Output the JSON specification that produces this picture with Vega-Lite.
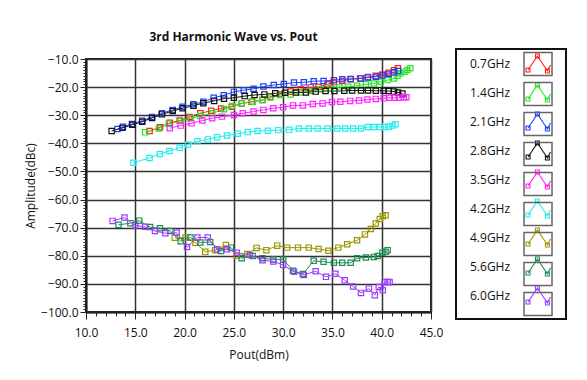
{
  "$schema": "https://vega.github.io/schema/vega-lite/v6.json",
  "width": 345,
  "height": 253,
  "autosize": {"type": "none"},
  "padding": {"left": 86, "top": 59, "right": 156, "bottom": 68},
  "background": "white",
  "title": {"text": "3rd Harmonic Wave vs. Pout", "font": "Open Sans", "fontSize": 12, "fontWeight": "bold", "color": "#111", "anchor": "middle", "dx": -25, "offset": 4},
  "config": {
    "view": {"stroke": "#222", "strokeWidth": 2},
    "font": "Open Sans",
    "legend": {"strokeWidth": 2}
  },
  "datasets": {
    "d": [
      {"s":"0.7GHz","x":16.45,"y":-35.6},{"s":"0.7GHz","x":17.5,"y":-34.3},{"s":"0.7GHz","x":18.5,"y":-32.7},{"s":"0.7GHz","x":19.5,"y":-31.9},{"s":"0.7GHz","x":20.5,"y":-30.6},{"s":"0.7GHz","x":21.6,"y":-29.3},{"s":"0.7GHz","x":22.7,"y":-28.4},{"s":"0.7GHz","x":23.7,"y":-27.6},{"s":"0.7GHz","x":24.8,"y":-27.0},{"s":"0.7GHz","x":25.8,"y":-25.8},{"s":"0.7GHz","x":26.8,"y":-25.2},{"s":"0.7GHz","x":27.9,"y":-24.6},{"s":"0.7GHz","x":28.7,"y":-23.4},{"s":"0.7GHz","x":29.7,"y":-22.5},{"s":"0.7GHz","x":30.75,"y":-21.6},{"s":"0.7GHz","x":31.8,"y":-20.8},{"s":"0.7GHz","x":32.8,"y":-20.1},{"s":"0.7GHz","x":33.6,"y":-19.9},{"s":"0.7GHz","x":34.5,"y":-19.0},{"s":"0.7GHz","x":35.15,"y":-18.3},{"s":"0.7GHz","x":36.0,"y":-17.8},{"s":"0.7GHz","x":36.85,"y":-17.2},{"s":"0.7GHz","x":37.8,"y":-16.9},{"s":"0.7GHz","x":38.6,"y":-16.4},{"s":"0.7GHz","x":39.4,"y":-16.0},{"s":"0.7GHz","x":40.07,"y":-15.5},{"s":"0.7GHz","x":40.7,"y":-14.9},{"s":"0.7GHz","x":41.25,"y":-14.0},{"s":"0.7GHz","x":41.65,"y":-13.3},
      {"s":"1.4GHz","x":16.0,"y":-36.1},{"s":"1.4GHz","x":17.4,"y":-34.7},{"s":"1.4GHz","x":18.4,"y":-33.0},{"s":"1.4GHz","x":19.6,"y":-32.1},{"s":"1.4GHz","x":20.6,"y":-31.1},{"s":"1.4GHz","x":21.6,"y":-30.3},{"s":"1.4GHz","x":22.8,"y":-29.3},{"s":"1.4GHz","x":24.0,"y":-27.9},{"s":"1.4GHz","x":24.8,"y":-26.7},{"s":"1.4GHz","x":25.8,"y":-25.8},{"s":"1.4GHz","x":26.9,"y":-25.2},{"s":"1.4GHz","x":27.9,"y":-24.6},{"s":"1.4GHz","x":28.7,"y":-23.7},{"s":"1.4GHz","x":29.7,"y":-22.8},{"s":"1.4GHz","x":30.75,"y":-22.6},{"s":"1.4GHz","x":31.8,"y":-21.9},{"s":"1.4GHz","x":32.8,"y":-21.4},{"s":"1.4GHz","x":33.8,"y":-20.8},{"s":"1.4GHz","x":34.8,"y":-20.4},{"s":"1.4GHz","x":35.7,"y":-20.1},{"s":"1.4GHz","x":36.6,"y":-19.9},{"s":"1.4GHz","x":37.5,"y":-19.5},{"s":"1.4GHz","x":38.4,"y":-19.0},{"s":"1.4GHz","x":39.2,"y":-18.7},{"s":"1.4GHz","x":39.9,"y":-18.1},{"s":"1.4GHz","x":40.6,"y":-17.5},{"s":"1.4GHz","x":41.25,"y":-16.9},{"s":"1.4GHz","x":41.6,"y":-16.0},{"s":"1.4GHz","x":41.9,"y":-15.1},{"s":"1.4GHz","x":42.3,"y":-14.5},{"s":"1.4GHz","x":42.6,"y":-13.9},{"s":"1.4GHz","x":42.9,"y":-13.3},
      {"s":"2.1GHz","x":13.2,"y":-34.9},{"s":"2.1GHz","x":13.75,"y":-34.1},{"s":"2.1GHz","x":14.66,"y":-33.1},{"s":"2.1GHz","x":15.7,"y":-32.0},{"s":"2.1GHz","x":16.7,"y":-30.6},{"s":"2.1GHz","x":17.7,"y":-29.3},{"s":"2.1GHz","x":18.8,"y":-28.1},{"s":"2.1GHz","x":19.8,"y":-27.0},{"s":"2.1GHz","x":20.9,"y":-26.1},{"s":"2.1GHz","x":21.9,"y":-25.2},{"s":"2.1GHz","x":22.96,"y":-23.8},{"s":"2.1GHz","x":23.97,"y":-22.9},{"s":"2.1GHz","x":25.0,"y":-21.7},{"s":"2.1GHz","x":26.0,"y":-21.1},{"s":"2.1GHz","x":27.0,"y":-20.6},{"s":"2.1GHz","x":28.0,"y":-19.8},{"s":"2.1GHz","x":29.05,"y":-19.25},{"s":"2.1GHz","x":30.07,"y":-18.9},{"s":"2.1GHz","x":31.1,"y":-18.4},{"s":"2.1GHz","x":32.1,"y":-18.3},{"s":"2.1GHz","x":33.1,"y":-17.9},{"s":"2.1GHz","x":34.1,"y":-17.8},{"s":"2.1GHz","x":35.15,"y":-17.6},{"s":"2.1GHz","x":36.0,"y":-17.2},{"s":"2.1GHz","x":36.85,"y":-17.1},{"s":"2.1GHz","x":37.9,"y":-16.9},{"s":"2.1GHz","x":38.6,"y":-16.6},{"s":"2.1GHz","x":39.4,"y":-16.3},{"s":"2.1GHz","x":40.07,"y":-15.9},{"s":"2.1GHz","x":40.7,"y":-15.3},{"s":"2.1GHz","x":41.25,"y":-14.7},{"s":"2.1GHz","x":41.65,"y":-14.3},
      {"s":"2.8GHz","x":12.6,"y":-35.6},{"s":"2.8GHz","x":13.7,"y":-34.5},{"s":"2.8GHz","x":14.7,"y":-33.4},{"s":"2.8GHz","x":15.7,"y":-32.3},{"s":"2.8GHz","x":16.7,"y":-31.0},{"s":"2.8GHz","x":17.7,"y":-29.7},{"s":"2.8GHz","x":18.8,"y":-28.5},{"s":"2.8GHz","x":19.8,"y":-27.5},{"s":"2.8GHz","x":20.9,"y":-26.6},{"s":"2.8GHz","x":21.9,"y":-25.7},{"s":"2.8GHz","x":23.0,"y":-24.9},{"s":"2.8GHz","x":24.0,"y":-24.1},{"s":"2.8GHz","x":25.0,"y":-23.8},{"s":"2.8GHz","x":26.1,"y":-23.2},{"s":"2.8GHz","x":27.1,"y":-22.8},{"s":"2.8GHz","x":28.1,"y":-22.6},{"s":"2.8GHz","x":29.2,"y":-22.2},{"s":"2.8GHz","x":30.2,"y":-22.0},{"s":"2.8GHz","x":31.3,"y":-21.9},{"s":"2.8GHz","x":32.3,"y":-21.9},{"s":"2.8GHz","x":33.3,"y":-21.6},{"s":"2.8GHz","x":34.3,"y":-21.4},{"s":"2.8GHz","x":35.2,"y":-21.4},{"s":"2.8GHz","x":36.2,"y":-21.3},{"s":"2.8GHz","x":37.0,"y":-21.2},{"s":"2.8GHz","x":37.9,"y":-21.2},{"s":"2.8GHz","x":38.6,"y":-21.2},{"s":"2.8GHz","x":39.4,"y":-21.3},{"s":"2.8GHz","x":40.2,"y":-21.3},{"s":"2.8GHz","x":40.7,"y":-21.4},{"s":"2.8GHz","x":41.25,"y":-21.6},{"s":"2.8GHz","x":41.65,"y":-21.9},{"s":"2.8GHz","x":42.1,"y":-22.3},
      {"s":"3.5GHz","x":18.5,"y":-34.6},{"s":"3.5GHz","x":19.6,"y":-33.7},{"s":"3.5GHz","x":20.7,"y":-32.9},{"s":"3.5GHz","x":21.8,"y":-31.9},{"s":"3.5GHz","x":22.8,"y":-31.1},{"s":"3.5GHz","x":23.8,"y":-30.5},{"s":"3.5GHz","x":25.0,"y":-29.9},{"s":"3.5GHz","x":25.9,"y":-29.3},{"s":"3.5GHz","x":27.0,"y":-28.7},{"s":"3.5GHz","x":28.0,"y":-28.1},{"s":"3.5GHz","x":29.0,"y":-27.5},{"s":"3.5GHz","x":30.0,"y":-27.2},{"s":"3.5GHz","x":31.0,"y":-26.5},{"s":"3.5GHz","x":32.0,"y":-26.5},{"s":"3.5GHz","x":33.0,"y":-26.0},{"s":"3.5GHz","x":34.0,"y":-25.8},{"s":"3.5GHz","x":34.95,"y":-25.3},{"s":"3.5GHz","x":35.8,"y":-25.2},{"s":"3.5GHz","x":36.8,"y":-24.9},{"s":"3.5GHz","x":37.7,"y":-24.8},{"s":"3.5GHz","x":38.55,"y":-24.4},{"s":"3.5GHz","x":39.4,"y":-24.2},{"s":"3.5GHz","x":40.2,"y":-24.0},{"s":"3.5GHz","x":40.8,"y":-23.8},{"s":"3.5GHz","x":41.3,"y":-23.8},{"s":"3.5GHz","x":41.75,"y":-23.8},{"s":"3.5GHz","x":42.25,"y":-23.6},{"s":"3.5GHz","x":42.5,"y":-23.6},
      {"s":"4.2GHz","x":14.8,"y":-46.9},{"s":"4.2GHz","x":16.45,"y":-45.2},{"s":"4.2GHz","x":17.5,"y":-43.8},{"s":"4.2GHz","x":18.46,"y":-42.7},{"s":"4.2GHz","x":19.5,"y":-41.6},{"s":"4.2GHz","x":20.35,"y":-40.4},{"s":"4.2GHz","x":21.3,"y":-39.3},{"s":"4.2GHz","x":22.35,"y":-38.6},{"s":"4.2GHz","x":23.3,"y":-37.8},{"s":"4.2GHz","x":24.3,"y":-37.2},{"s":"4.2GHz","x":25.4,"y":-36.6},{"s":"4.2GHz","x":26.4,"y":-36.0},{"s":"4.2GHz","x":27.4,"y":-35.6},{"s":"4.2GHz","x":28.45,"y":-35.5},{"s":"4.2GHz","x":29.5,"y":-35.3},{"s":"4.2GHz","x":30.6,"y":-35.2},{"s":"4.2GHz","x":31.6,"y":-34.7},{"s":"4.2GHz","x":32.6,"y":-34.7},{"s":"4.2GHz","x":33.5,"y":-34.7},{"s":"4.2GHz","x":34.5,"y":-34.7},{"s":"4.2GHz","x":35.5,"y":-34.7},{"s":"4.2GHz","x":36.3,"y":-34.7},{"s":"4.2GHz","x":37.1,"y":-34.7},{"s":"4.2GHz","x":37.9,"y":-34.7},{"s":"4.2GHz","x":38.6,"y":-34.2},{"s":"4.2GHz","x":39.2,"y":-34.2},{"s":"4.2GHz","x":39.8,"y":-34.2},{"s":"4.2GHz","x":40.3,"y":-34.2},{"s":"4.2GHz","x":40.7,"y":-34.1},{"s":"4.2GHz","x":41.1,"y":-33.7},{"s":"4.2GHz","x":41.4,"y":-33.2},
      {"s":"4.9GHz","x":19.0,"y":-73.6},{"s":"4.9GHz","x":20.1,"y":-73.5},{"s":"4.9GHz","x":21.1,"y":-75.4},{"s":"4.9GHz","x":22.1,"y":-78.6},{"s":"4.9GHz","x":23.1,"y":-78.0},{"s":"4.9GHz","x":24.2,"y":-76.2},{"s":"4.9GHz","x":25.3,"y":-80.0},{"s":"4.9GHz","x":26.35,"y":-79.4},{"s":"4.9GHz","x":27.3,"y":-77.2},{"s":"4.9GHz","x":28.3,"y":-78.0},{"s":"4.9GHz","x":29.4,"y":-76.4},{"s":"4.9GHz","x":30.4,"y":-77.1},{"s":"4.9GHz","x":31.5,"y":-77.1},{"s":"4.9GHz","x":32.6,"y":-77.1},{"s":"4.9GHz","x":33.6,"y":-77.6},{"s":"4.9GHz","x":34.6,"y":-78.2},{"s":"4.9GHz","x":35.6,"y":-77.1},{"s":"4.9GHz","x":36.5,"y":-75.9},{"s":"4.9GHz","x":37.5,"y":-74.5},{"s":"4.9GHz","x":38.3,"y":-72.4},{"s":"4.9GHz","x":38.9,"y":-70.5},{"s":"4.9GHz","x":39.4,"y":-68.5},{"s":"4.9GHz","x":39.8,"y":-66.9},{"s":"4.9GHz","x":40.1,"y":-65.9},{"s":"4.9GHz","x":40.4,"y":-65.6},
      {"s":"5.6GHz","x":13.3,"y":-69.0},{"s":"5.6GHz","x":14.5,"y":-68.4},{"s":"5.6GHz","x":15.4,"y":-67.5},{"s":"5.6GHz","x":16.5,"y":-69.8},{"s":"5.6GHz","x":17.5,"y":-70.2},{"s":"5.6GHz","x":18.55,"y":-71.2},{"s":"5.6GHz","x":19.6,"y":-74.8},{"s":"5.6GHz","x":20.6,"y":-73.5},{"s":"5.6GHz","x":21.6,"y":-75.3},{"s":"5.6GHz","x":22.6,"y":-75.1},{"s":"5.6GHz","x":23.7,"y":-78.3},{"s":"5.6GHz","x":24.7,"y":-77.1},{"s":"5.6GHz","x":25.8,"y":-80.9},{"s":"5.6GHz","x":26.9,"y":-80.1},{"s":"5.6GHz","x":27.9,"y":-80.9},{"s":"5.6GHz","x":29.0,"y":-81.3},{"s":"5.6GHz","x":30.0,"y":-81.3},{"s":"5.6GHz","x":31.0,"y":-85.3},{"s":"5.6GHz","x":32.0,"y":-86.5},{"s":"5.6GHz","x":33.1,"y":-81.8},{"s":"5.6GHz","x":34.1,"y":-82.1},{"s":"5.6GHz","x":35.15,"y":-82.5},{"s":"5.6GHz","x":36.0,"y":-82.5},{"s":"5.6GHz","x":36.85,"y":-82.5},{"s":"5.6GHz","x":37.5,"y":-80.9},{"s":"5.6GHz","x":38.4,"y":-80.6},{"s":"5.6GHz","x":39.2,"y":-80.4},{"s":"5.6GHz","x":39.6,"y":-80.1},{"s":"5.6GHz","x":40.07,"y":-78.9},{"s":"5.6GHz","x":40.4,"y":-78.6},{"s":"5.6GHz","x":40.6,"y":-78.0},
      {"s":"6.0GHz","x":12.7,"y":-67.6},{"s":"6.0GHz","x":13.9,"y":-66.4},{"s":"6.0GHz","x":15.0,"y":-69.2},{"s":"6.0GHz","x":16.0,"y":-69.7},{"s":"6.0GHz","x":17.0,"y":-71.2},{"s":"6.0GHz","x":18.05,"y":-72.0},{"s":"6.0GHz","x":19.2,"y":-71.8},{"s":"6.0GHz","x":20.25,"y":-76.9},{"s":"6.0GHz","x":21.3,"y":-73.5},{"s":"6.0GHz","x":22.35,"y":-73.5},{"s":"6.0GHz","x":23.3,"y":-77.7},{"s":"6.0GHz","x":24.3,"y":-77.7},{"s":"6.0GHz","x":25.3,"y":-78.9},{"s":"6.0GHz","x":26.6,"y":-79.7},{"s":"6.0GHz","x":27.9,"y":-81.6},{"s":"6.0GHz","x":29.0,"y":-82.0},{"s":"6.0GHz","x":30.0,"y":-83.3},{"s":"6.0GHz","x":31.1,"y":-85.7},{"s":"6.0GHz","x":32.1,"y":-86.8},{"s":"6.0GHz","x":33.3,"y":-85.5},{"s":"6.0GHz","x":34.35,"y":-87.5},{"s":"6.0GHz","x":35.3,"y":-86.4},{"s":"6.0GHz","x":36.25,"y":-88.7},{"s":"6.0GHz","x":37.1,"y":-90.9},{"s":"6.0GHz","x":37.9,"y":-93.2},{"s":"6.0GHz","x":38.7,"y":-91.7},{"s":"6.0GHz","x":39.3,"y":-94.0},{"s":"6.0GHz","x":39.7,"y":-91.1},{"s":"6.0GHz","x":40.1,"y":-92.3},{"s":"6.0GHz","x":40.3,"y":-89.4},{"s":"6.0GHz","x":40.6,"y":-89.25},{"s":"6.0GHz","x":40.8,"y":-89.4}
    ],
    "keys": [
      {"key":"0.7GHz"},{"key":"1.4GHz"},{"key":"2.1GHz"},{"key":"2.8GHz"},{"key":"3.5GHz"},{"key":"4.2GHz"},{"key":"4.9GHz"},{"key":"5.6GHz"},{"key":"6.0GHz"}
    ]
  },
  "layer": [
    {
      "data": {"name": "d"},
      "mark": {"type": "line", "strokeWidth": 1, "point": {"shape": "square", "filled": false, "size": 28, "strokeWidth": 1.2}},
      "encoding": {
        "x": {
          "field": "x", "type": "quantitative",
          "scale": {"domain": [10, 45], "nice": false, "zero": false},
          "axis": {
            "title": "Pout(dBm)",
            "values": [10,11,12,13,14,15,16,17,18,19,20,21,22,23,24,25,26,27,28,29,30,31,32,33,34,35,36,37,38,39,40,41,42,43,44,45],
            "labelExpr": "datum.value % 5 === 0 ? format(datum.value, '.1f') : ''",
            "labelOverlap": false,
            "labelFlush": false,
            "labelFont": "Open Sans", "labelFontSize": 12, "labelColor": "#111", "labelPadding": 8,
            "tickColor": "#222",
            "tickSize": {"condition": {"test": "datum.value % 5 === 0", "value": 7}, "value": 4},
            "grid": true,
            "gridColor": "#333", "gridWidth": 1.5,
            "gridOpacity": {"condition": {"test": "datum.value % 5 === 0", "value": 1}, "value": 0},
            "domainColor": "#222", "domainWidth": 2,
            "titleFont": "Open Sans", "titleFontSize": 12, "titleFontWeight": "normal", "titleColor": "#111",
            "titleX": 172.5, "titleY": 46, "titleBaseline": "alphabetic", "titleAlign": "center"
          }
        },
        "y": {
          "field": "y", "type": "quantitative",
          "scale": {"domain": [-100, -10], "nice": false, "zero": false},
          "axis": {
            "title": "Amplitude(dBc)",
            "values": [-100,-99,-98,-97,-96,-95,-94,-93,-92,-91,-90,-89,-88,-87,-86,-85,-84,-83,-82,-81,-80,-79,-78,-77,-76,-75,-74,-73,-72,-71,-70,-69,-68,-67,-66,-65,-64,-63,-62,-61,-60,-59,-58,-57,-56,-55,-54,-53,-52,-51,-50,-49,-48,-47,-46,-45,-44,-43,-42,-41,-40,-39,-38,-37,-36,-35,-34,-33,-32,-31,-30,-29,-28,-27,-26,-25,-24,-23,-22,-21,-20,-19,-18,-17,-16,-15,-14,-13,-12,-11,-10],
            "labelExpr": "datum.value % 10 === 0 ? format(datum.value, '.1f') : ''",
            "labelOverlap": false,
            "labelFlush": false,
            "labelFont": "Open Sans", "labelFontSize": 12, "labelColor": "#111", "labelPadding": 2,
            "tickColor": "#222",
            "tickSize": {"condition": {"test": "datum.value % 10 === 0", "value": 6}, "value": 3},
            "grid": true,
            "gridColor": "#333", "gridWidth": 1.5,
            "gridOpacity": {"condition": {"test": "datum.value % 10 === 0", "value": 1}, "value": 0},
            "domainColor": "#222", "domainWidth": 2,
            "titleFont": "Open Sans", "titleFontSize": 12, "titleFontWeight": "normal", "titleColor": "#111",
            "titleX": -56, "titleY": 126.5, "titleAngle": -90, "titleAlign": "center", "titleBaseline": "middle"
          }
        },
        "color": {
          "field": "s", "type": "nominal",
          "scale": {
            "domain": ["0.7GHz","1.4GHz","2.1GHz","2.8GHz","3.5GHz","4.2GHz","4.9GHz","5.6GHz","6.0GHz"],
            "range": ["#ff1f1f","#22e622","#2040ff","#111111","#ff22ff","#22eeee","#9c9600","#1e8c55","#a03cff"]
          },
          "legend": {
            "title": null,
            "orient": "none", "legendX": 370, "legendY": -10,
            "padding": 0,
            "symbolType": "M-1,-0.82 M1,0.82 M-0.71,0.43 L-0.04,-0.57 L0.67,0.5 L0.89,0.07 M-0.85,0.29 h0.28 v0.28 h-0.28 Z M-0.18,-0.71 h0.28 v0.28 h-0.28 Z M0.53,0.36 h0.28 v0.28 h-0.28 Z",
            "symbolSize": 784,
            "symbolStrokeWidth": 1.1,
            "symbolFillColor": "transparent",
            "symbolOffset": 67,
            "labelOffset": -83,
            "labelAlign": "left",
            "labelFont": "Open Sans", "labelFontSize": 12, "labelColor": "#111",
            "rowPadding": 0
          }
        }
      }
    },
    {
      "data": {"name": "keys"},
      "mark": {"type": "point", "opacity": 0, "size": 1},
      "encoding": {
        "shape": {
          "field": "key", "type": "nominal",
          "scale": {
            "range": ["M-1,-0.82 L1,-0.82 L1,0.82 L-1,0.82 Z","M-1,-0.82 L1,-0.82 L1,0.82 L-1,0.82 Z","M-1,-0.82 L1,-0.82 L1,0.82 L-1,0.82 Z","M-1,-0.82 L1,-0.82 L1,0.82 L-1,0.82 Z","M-1,-0.82 L1,-0.82 L1,0.82 L-1,0.82 Z","M-1,-0.82 L1,-0.82 L1,0.82 L-1,0.82 Z","M-1,-0.82 L1,-0.82 L1,0.82 L-1,0.82 Z","M-1,-0.82 L1,-0.82 L1,0.82 L-1,0.82 Z","M-1,-0.82 L1,-0.82 L1,0.82 L-1,0.82 Z"]
          },
          "legend": {
            "title": null,
            "orient": "none", "legendX": 370, "legendY": -10,
            "padding": 0,
            "strokeColor": "#111",
            "symbolSize": 784,
            "symbolStrokeColor": "#666",
            "symbolStrokeWidth": 1.5,
            "symbolFillColor": "transparent",
            "symbolOpacity": 1,
            "symbolOffset": 67,
            "labelExpr": "'.'",
            "labelOpacity": 0,
            "labelOffset": 9,
            "labelAlign": "left",
            "labelFont": "Open Sans", "labelFontSize": 12,
            "rowPadding": 0
          }
        }
      }
    }
  ]
}
